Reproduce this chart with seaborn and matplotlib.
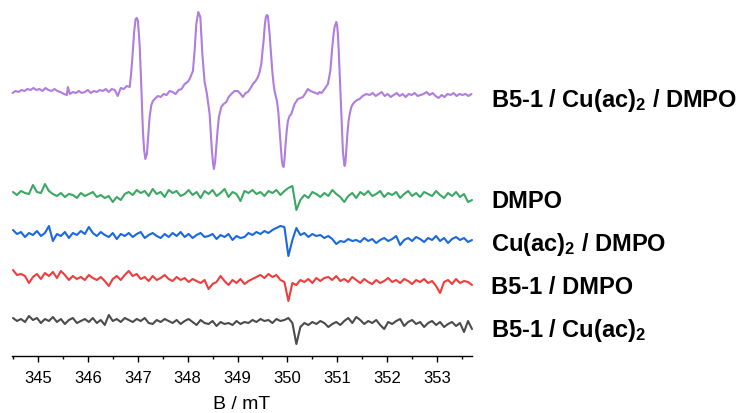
import numpy as np
import pandas as pd
import matplotlib.pyplot as plt
import matplotlib.ticker as mticker
import seaborn as sns

# purple spectrum: B5-1 / Cu(ac)2 / DMPO (field in mT, intensity in a.u.)
field_b5_cu = [
    344.49, 344.55, 344.61, 344.67, 344.73, 344.79, 344.85, 344.91, 344.97, 345.03,
    345.09, 345.15, 345.21, 345.27, 345.33, 345.39, 345.45, 345.52, 345.58, 345.60,
    345.64, 345.70, 345.76, 345.82, 345.88, 345.94, 346.00, 346.06, 346.12, 346.18,
    346.24, 346.30, 346.36, 346.42, 346.48, 346.54, 346.60, 346.66, 346.72, 346.78,
    346.84,
    346.872, 346.898, 346.928, 346.958, 346.984, 347.004, 347.038, 347.072, 347.104, 347.128,
    347.152, 347.184, 347.208, 347.238, 347.273, 347.305, 347.359, 347.405, 347.459, 347.519,
    347.579, 347.639, 347.699, 347.760, 347.820, 347.880, 347.940, 348.000, 348.040, 348.074,
    348.106, 348.140, 348.174, 348.214, 348.255, 348.295, 348.341, 348.387, 348.441, 348.487,
    348.511, 348.527, 348.551, 348.575, 348.601, 348.627, 348.675, 348.721, 348.776, 348.822,
    348.876, 348.942, 349.008, 349.062, 349.108, 349.162, 349.208, 349.263, 349.309, 349.363,
    349.409, 349.443, 349.477, 349.503, 349.523, 349.549, 349.569, 349.589, 349.609, 349.643,
    349.669, 349.697, 349.723, 349.743, 349.790, 349.818, 349.844, 349.868, 349.890, 349.908,
    349.924, 349.944, 349.964, 349.988, 350.010, 350.044, 350.078, 350.110, 350.144, 350.210,
    350.265, 350.311, 350.365, 350.411, 350.465, 350.511, 350.565, 350.611, 350.645, 350.685,
    350.745, 350.812, 350.860, 350.900, 350.926, 350.946, 350.980, 350.996, 351.012, 351.030,
    351.046, 351.080, 351.112, 351.130, 351.146, 351.162, 351.180, 351.202, 351.226, 351.253,
    351.281, 351.313, 351.347, 351.397, 351.447, 351.507, 351.581,
    351.65, 351.71, 351.77, 351.83, 351.89, 351.95, 352.01, 352.07, 352.13, 352.19,
    352.25, 352.31, 352.37, 352.43, 352.49, 352.55, 352.61, 352.67, 352.73, 352.79,
    352.85, 352.91, 352.97, 353.03, 353.09, 353.15, 353.21, 353.27, 353.33, 353.39,
    353.45, 353.51, 353.57, 353.63, 353.69,
]
int_b5_cu = [
    -1, 1, 0, 2, 1, 3, 2, 4, 2, 3,
    1, 4, 2, 1, 3, 1, 0, -2, -3, 5,
    -2, 0, -1, 1, -1, 0, 2, -1, 1, 0,
    2, 1, 3, 0, 3, 2, -4, 4, 3, 6,
    5,
    21, 38, 60, 73, 74, 71, 48, 5, -39, -58,
    -67, -62, -45, -25, -13, -9, -6, -4, -5, -2,
    -3, 1, 0, -2, 2, 3, 8, 10, 13, 17,
    21, 41, 68, 80, 75, 38, 10, -2, -22, -59,
    -72, -77, -70, -55, -38, -25, -15, -12, -10, -5,
    -2, 1, 1, -2, -5, -1, 0, 4, 8, 11,
    15, 20, 28, 42, 51, 68, 75, 77, 76, 58,
    40, 21, 8, 1, -9, -20, -39, -55, -69, -74,
    -75, -66, -52, -38, -29, -24, -22, -17, -12, -7,
    -6, -5, -1, 3, 1, 0, -1, -2, 0, -1,
    3, 8, 21, 45, 58, 65, 70, 67, 58, 40,
    21, -22, -59, -68, -74, -71, -59, -42, -29, -21,
    -15, -12, -10, -8, -7, -4, -2,
    -3, -1, -4, -2, 0, -4, -2, -5, -3, -1,
    -4, -2, -5, -2, -3, -1, -4, -3, -2, 0,
    -3, -1, -4, -6, -3, -5, -2, -3, -1, -4,
    -2, -3, -2, -4, -2,
]

# the four control spectra share one field sweep, 344.5 - 353.7 mT in 0.08 mT steps
sweep = np.linspace(344.5, 353.7, 116)

int_dmpo = [
    2, -1, 3, 1, 0, 9, 2, 1, 10, 3,
    0, -2, 1, -3, 0, -1, -4, 1, -2, 0,
    2, -3, -1, -4, -2, -8, -3, -6, 0, 2,
    -1, 4, 1, 3, -2, 5, 0, 2, -3, 4,
    1, 3, -2, 0, 4, -1, 2, -4, 3, 0,
    4, -2, 1, 5, -3, 2, 0, -7, 3, 1,
    4, 0, 2, -2, 3, 1, 4, -1, 3, 6,
    8, -16, -6, -1, -4, 2, 0, -3, 1, -2,
    4, 0, -3, -8, -2, 1, -4, 2, -1, 3,
    -2, 0, 3, -3, 1, -1, 2, -4, 0, 3,
    -2, 1, -3, 2, 0, -2, 3, -1, -4, 1,
    -2, 2, -3, 0, -8, -6,
]
int_cu_dmpo = [
    6, 2, 4, -1, 3, 1, 5, 0, 3, 10,
    -5, 2, 0, 4, -2, 3, 1, 5, 2, 9,
    3, 0, 4, 1, -1, 3, -3, 2, 0, 3,
    -1, 2, 4, -2, 1, 3, 0, -2, 2, -1,
    3, 0, 4, -1, 2, -2, 1, 3, -1, 0,
    2, -3, 1, -1, 2, -4, 0, -2, -1, 3,
    1, 4, 2, 5, 3, 6, 8, 10, 9, -20,
    -4, 8, 1, 3, -1, 2, 0, 1, -2, 0,
    -3, -8, -5, -6, -3, -5, -4, -6, -2, -5,
    -3, -7, -4, -2, -5, -3, 0, -9, -4, -2,
    -5, -1, -3, -6, -2, -4, 0, -5, -2, -7,
    -3, -1, -4, -2, -6, -4,
]
int_b5_dmpo = [
    7, 2, 3, 1, -6, 0, 3, -2, 4, 1,
    5, -1, 6, 2, -3, 1, -2, 0, -3, 2,
    -1, -3, 0, -4, -9, -2, 1, -3, 2, 6,
    1, 3, -2, 0, -4, 1, -3, -1, 2, -2,
    -4, 0, -3, -1, -5, -2, -4, -6, -3, -12,
    -7, -5, 1, -4, -8, -3, -6, -2, -7, -4,
    -2, 0, 2, -1, 3, 0, 2, -3, -5, -24,
    -6, -8, -3, -5, -2, -6, -1, -4, -1, 0,
    -3, 1, -4, -2, -5, 0, -3, -6, -2, -5,
    -7, -3, -6, -4, -1, -5, -3, -6, -2, -4,
    -7, -3, -5, -2, -6, -4, -9, -16, -5, -3,
    -7, -2, -6, -4, -5, -8,
]
int_b5_cu_only = [
    3, 0, 2, -1, 5, 1, 3, -2, 2, 0,
    4, -1, 2, -3, 1, 3, -2, 0, 2, -1,
    3, -2, 1, -4, 6, 0, 2, -1, 3, 1,
    -1, 2, 0, 3, -2, -3, 1, -1, 2, 0,
    -2, 1, -3, 0, 2, -1, -4, 1, -2, -3,
    0, -5, -1, -3, -2, -4, 0, -3, -1, -2,
    1, -1, 2, 0, 1, -2, 2, 0, 1, 3,
    -2, -23, -6, -2, -4, -1, -3, 0, -2, -6,
    -3, -1, -4, 0, 3, -2, 4, 1, -3, 0,
    -2, 1, -4, -8, -1, -3, 0, 2, -5, -1,
    1, -3, -1, -6, -2, 0, -4, -1, -6, -3,
    -1, -5, -2, -11, 0, -8,
]

labels = [
    "B5-1 / Cu(ac)$_2$ / DMPO",
    "DMPO",
    "Cu(ac)$_2$ / DMPO",
    "B5-1 / DMPO",
    "B5-1 / Cu(ac)$_2$",
]

# stacking offsets and colours (layout, not data)
offsets = [264, 162, 120, 79, 35]
colors = ["#B07CE0", "#3AA862", "#1A68E0", "#F03C3C", "#4B4B4B"]
label_baseline_px = [107, 208, 251, 294, 337]

sns.set_style("ticks")
plt.rcParams["font.family"] = ["Liberation Sans", "DejaVu Sans"]
plt.rcParams["mathtext.fontset"] = "custom"
plt.rcParams["mathtext.rm"] = "Liberation Sans:bold"
plt.rcParams["mathtext.bf"] = "Liberation Sans:bold"
plt.rcParams["mathtext.it"] = "Liberation Sans:bold"
plt.rcParams["mathtext.default"] = "bf"
plt.rcParams["text.color"] = "black"
plt.rcParams["axes.labelcolor"] = "black"
plt.rcParams["xtick.color"] = "black"
plt.rcParams["axes.edgecolor"] = "black"

fig = plt.figure(figsize=(7.4, 4.14), dpi=100)
ax = fig.add_axes([12 / 740, 57 / 414, 460 / 740, 352 / 414])

traces = [
    (field_b5_cu, int_b5_cu),
    (sweep, int_dmpo),
    (sweep, int_cu_dmpo),
    (sweep, int_b5_dmpo),
    (sweep, int_b5_cu_only),
]
for (x, y), off, c in zip(traces, offsets, colors):
    df = pd.DataFrame({"B": x, "I": np.array(y, dtype=float) + off})
    sns.lineplot(data=df, x="B", y="I", color=c, lw=1.5, estimator=None,
                 sort=False, ax=ax, clip_on=False)

ax.set_xlim(344.48, 353.7)
ax.set_ylim(0, 352)
sns.despine(ax=ax, left=True)
ax.set_yticks([])
ax.set_ylabel("")
ax.xaxis.set_major_locator(mticker.MultipleLocator(1))
ax.xaxis.set_minor_locator(mticker.MultipleLocator(0.5))
ax.tick_params(axis="x", which="major", length=4, width=1, labelsize=12, pad=6,
               colors="black")
ax.tick_params(axis="x", which="minor", length=2.5, width=1, colors="black")
ax.spines["bottom"].set_linewidth(1)
ax.spines["bottom"].set_color("black")
ax.set_xlabel("B / mT", fontsize=14, labelpad=7, color="black")

for lab, ypx in zip(labels, label_baseline_px):
    fig.text(491 / 740, 1 - ypx / 414, lab, fontsize=17, fontweight="bold",
             ha="left", va="baseline", color="black")

fig.savefig("out.png", dpi=100)
